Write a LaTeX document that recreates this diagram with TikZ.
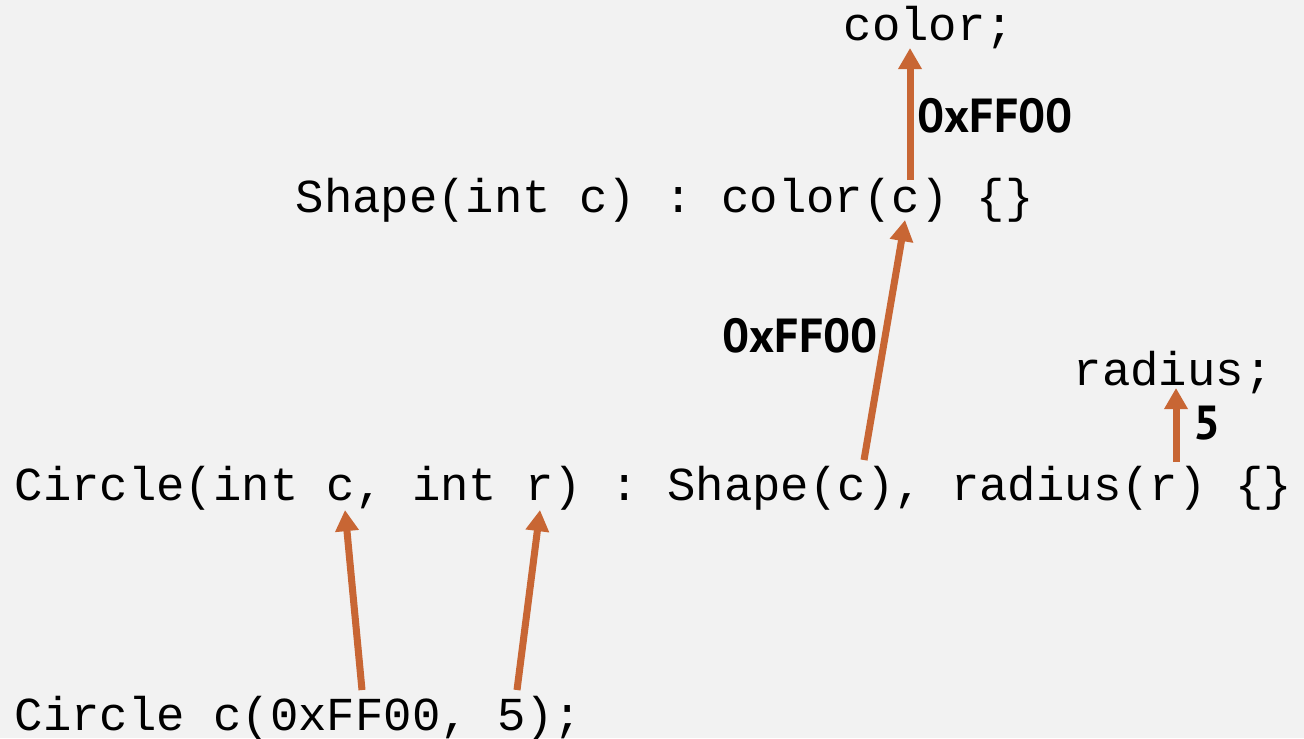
\documentclass[tikz,border=0pt]{standalone}
\usepackage{fontspec}
\setmonofont{Liberation Mono}
\newfontfamily\labelfont{PT Sans}
\usetikzlibrary{arrows.meta}
\definecolor{slide}{HTML}{F2F2F2}
\definecolor{flow}{HTML}{C86634}
\tikzset {
  % one line of source code
  code/.style = {
    anchor = base west,
    inner sep = 0,
    font = \fontsize{13.45}{16}\selectfont\ttfamily
  },
  % value that is passed along
  value/.style = {
    inner sep = 0,
    font = \fontsize{13.6}{16}\selectfont\labelfont\bfseries
  },
  % arrow from argument to parameter
  arr/.style = {
    draw = flow,
    line width = 2pt,
    -{Triangle[width=6.4pt,length=6pt]}
  }
}

\begin{document}
\begin{tikzpicture}[x=0.01cm, y=-0.01cm]
    \fill[slide] (0,0) rectangle (1304,738);
    \useasboundingbox (0,0) rectangle (1304,738);

    \node[code] (member) at (843,40) {color;};
    \node[code] (base-ctor) at (295,212) {Shape(int c) : color(c) \{\}};
    \node[code] (radius) at (1073,385) {radius;};
    \node[code] (ctor) at (14,500) {Circle(int c, int r) : Shape(c), radius(r) \{\}};
    \node[code] (call) at (14,730) {Circle c(0xFF00, 5);};

    \node[value] (color-val) at (995,116) {0xFF00};
    \node[value] (shape-val) at (800,336) {0xFF00};
    \node[value] (radius-val) at (1207,423) {5};

    % ends of the arrows, under the characters
    \coordinate (call-c) at (362,690);
    \coordinate (ctor-c) at (345,510);
    \coordinate (call-r) at (517,690);
    \coordinate (ctor-r) at (540,510);
    \coordinate (shape-c) at (864,460);
    \coordinate (base-c) at (905,220);
    \coordinate (init-c) at (910,180);
    \coordinate (member-c) at (910,48);
    \coordinate (init-r) at (1176,462);
    \coordinate (radius-r) at (1176,388);

    \draw[arr] (call-c) -- (ctor-c);
    \draw[arr] (call-r) -- (ctor-r);
    \draw[arr] (shape-c) -- (base-c);
    \draw[arr] (init-c) -- (member-c);
    \draw[arr] (init-r) -- (radius-r);
\end{tikzpicture}
\end{document}
